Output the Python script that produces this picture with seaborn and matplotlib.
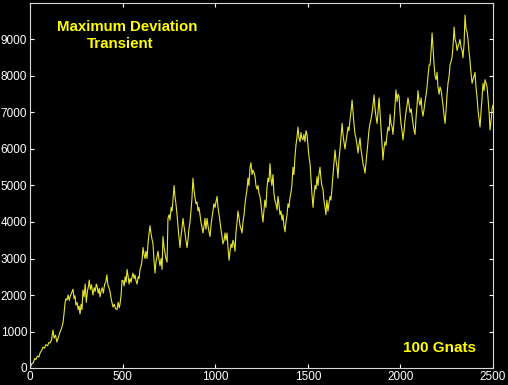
import numpy as np
import pandas as pd
import matplotlib
matplotlib.use("Agg")
import matplotlib.pyplot as plt
import seaborn as sns

# ─────────────────────────────────────────────────────────────────────────────
#  Data
# ─────────────────────────────────────────────────────────────────────────────

steps = [
    0, 10, 18, 25, 32, 40, 48, 55, 62, 70, 78, 86, 95, 102, 108, 116, 124, 130, 138, 145,
    152, 162, 170, 178, 184, 189, 194, 200, 206, 212, 216, 224, 232, 238, 243, 248, 254, 260, 265, 270,
    276, 281, 286, 292, 298, 304, 310, 316, 320, 326, 332, 340, 346, 352, 358, 362, 368, 374, 378, 384,
    390, 396, 403, 409, 415, 420, 426, 432, 438, 443, 448, 455, 462, 470, 476, 482, 486, 492, 497, 502,
    508, 514, 519, 524, 530, 535, 540, 546, 551, 556, 562, 567, 572, 578, 584, 589, 594, 600, 605, 610,
    616, 621, 626, 632, 637, 642, 648, 653, 658, 664, 669, 675, 680, 686, 691, 697, 702, 708, 713, 718,
    724, 729, 734, 740, 745, 751, 756, 762, 767, 772, 778, 783, 788, 794, 799, 804, 810, 815, 820, 826,
    831, 837, 842, 848, 853, 858, 864, 869, 874, 880, 885, 890, 896, 902, 907, 912, 918, 923, 929, 934,
    940, 945, 950, 956, 961, 966, 972, 977, 982, 988, 993, 999, 1004, 1010, 1015, 1021, 1026, 1031, 1037, 1042,
    1048, 1053, 1058, 1064, 1069, 1075, 1080, 1086, 1091, 1096, 1102, 1107, 1112, 1118, 1123, 1129, 1134, 1140, 1145, 1150,
    1156, 1161, 1166, 1172, 1177, 1182, 1188, 1193, 1199, 1204, 1210, 1215, 1220, 1226, 1231, 1236, 1242, 1247, 1252, 1258,
    1263, 1268, 1274, 1279, 1285, 1290, 1296, 1301, 1306, 1312, 1317, 1322, 1328, 1334, 1339, 1344, 1350, 1355, 1361, 1366,
    1371, 1377, 1382, 1388, 1393, 1398, 1404, 1409, 1414, 1420, 1425, 1431, 1436, 1441, 1447, 1452, 1458, 1463, 1468, 1474,
    1479, 1485, 1490, 1496, 1501, 1506, 1512, 1517, 1522, 1528, 1533, 1539, 1544, 1550, 1555, 1560, 1566, 1571, 1576, 1582,
    1587, 1593, 1598, 1603, 1609, 1614, 1620, 1625, 1631, 1636, 1641, 1647, 1652, 1658, 1663, 1668, 1674, 1679, 1685, 1690,
    1695, 1701, 1706, 1712, 1717, 1722, 1728, 1733, 1739, 1744, 1749, 1755, 1760, 1766, 1771, 1776, 1782, 1787, 1793, 1798,
    1803, 1809, 1814, 1820, 1825, 1830, 1836, 1841, 1847, 1852, 1858, 1863, 1868, 1874, 1879, 1885, 1890, 1895, 1901, 1906,
    1911, 1917, 1922, 1928, 1933, 1939, 1944, 1949, 1955, 1960, 1966, 1971, 1976, 1982, 1987, 1993, 1998, 2003, 2009, 2014,
    2020, 2025, 2030, 2036, 2041, 2047, 2052, 2058, 2063, 2068, 2074, 2079, 2085, 2090, 2095, 2101, 2106, 2112, 2117, 2122,
    2128, 2133, 2139, 2144, 2149, 2155, 2160, 2166, 2171, 2177, 2182, 2187, 2193, 2198, 2203, 2209, 2214, 2220, 2225, 2230,
    2236, 2241, 2247, 2252, 2257, 2263, 2268, 2274, 2279, 2284, 2290, 2295, 2301, 2306, 2311, 2317, 2322, 2327, 2333, 2338,
    2344, 2349, 2354, 2360, 2365, 2370, 2376, 2381, 2387, 2392, 2398, 2403, 2408, 2414, 2419, 2425, 2430, 2435, 2441, 2446,
    2452, 2457, 2463, 2468, 2473, 2479, 2484, 2490, 2495, 2500,
]

max_deviation = [
    0, 120, 140, 260, 230, 330, 300, 420, 470, 575, 540, 640, 610, 700, 685, 760, 1040, 820, 900, 712,
    820, 985, 1080, 1233, 1500, 1780, 1900, 1860, 2000, 1850, 1950, 2050, 2160, 1900, 1980, 1720, 1800, 1600, 1700, 1480,
    1750, 1600, 2140, 1950, 2300, 1800, 2100, 2250, 2410, 2150, 2280, 2000, 2200, 2100, 2300, 2250, 2050, 2180, 1950, 2100,
    2200, 2050, 2300, 2350, 2550, 2300, 2200, 2100, 1900, 1780, 1670, 1750, 1620, 1600, 1800, 1650, 1750, 2000, 2400, 2400,
    2250, 2500, 2350, 2700, 2500, 2300, 2450, 2350, 2500, 2600, 2450, 2550, 2400, 2300, 2500, 2450, 2700, 2800, 2950, 3300,
    3100, 3000, 3200, 3000, 3400, 3650, 3900, 3700, 3550, 3400, 3000, 2600, 2900, 3050, 3200, 2950, 2800, 3000, 2700, 3600,
    3300, 3150, 3000, 2900, 4100, 4200, 4050, 4400, 4300, 4600, 5000, 4700, 4500, 4200, 3900, 3600, 3300, 3600, 3800, 4100,
    3900, 3700, 3500, 3300, 3500, 3800, 4000, 4300, 4600, 5200, 4900, 4700, 4500, 4550, 4300, 4400, 4200, 4000, 3850, 3700,
    3900, 4100, 3800, 4100, 3900, 3750, 3600, 3900, 4100, 4300, 4500, 4400, 4550, 4700, 4400, 4200, 4000, 3800, 3600, 3400,
    3500, 3700, 3500, 3700, 3300, 2950, 3200, 3400, 3300, 3500, 3400, 3200, 3700, 4000, 4300, 4100, 3900, 3800, 3700, 4000,
    4200, 4500, 4700, 4900, 5200, 5000, 5500, 5620, 5300, 5420, 5350, 5240, 5000, 4900, 5000, 4800, 4690, 4500, 4250, 4000,
    4300, 4600, 4400, 4900, 5200, 5100, 5600, 5200, 5000, 5300, 4800, 4600, 4500, 4330, 4700, 4500, 4200, 4300, 4050, 4200,
    3900, 3730, 4000, 4200, 4500, 4400, 4670, 4800, 5000, 5500, 5300, 5800, 6100, 6300, 6600, 6300, 6200, 6450, 6300, 6250,
    6400, 6200, 6500, 6400, 6100, 5800, 5600, 5200, 4800, 4400, 4700, 5000, 4900, 5240, 5000, 5300, 5500, 5200, 5000, 4900,
    4600, 4400, 4200, 4600, 4300, 4500, 4700, 4600, 4960, 5300, 5600, 5970, 5700, 5500, 5200, 5700, 6000, 6300, 6700, 6400,
    6200, 6000, 6200, 6400, 6600, 6500, 6800, 7000, 7340, 7000, 6700, 6400, 6300, 6100, 5890, 6100, 6300, 6000, 5800, 5600,
    5500, 5340, 5600, 5900, 6200, 6500, 6700, 6800, 6990, 7200, 7480, 7100, 6900, 6700, 7000, 7400, 7000, 6600, 6100, 5700,
    6000, 6200, 6100, 6400, 6600, 6500, 6950, 6700, 6600, 6400, 6800, 7200, 7620, 7300, 7500, 7440, 7000, 6700, 6500, 6250,
    6500, 6800, 7000, 7200, 7400, 7200, 7000, 7100, 6900, 6700, 6500, 6400, 6900, 7200, 7600, 7300, 7200, 7400, 7050, 6900,
    7100, 7300, 7500, 7700, 8000, 8300, 8300, 8700, 9180, 8700, 8300, 8000, 7900, 8100, 7700, 7500, 7700, 7600, 7400, 7200,
    6900, 6700, 7100, 7500, 7800, 8000, 8300, 8400, 8520, 8800, 9340, 9000, 8900, 8700, 8800, 8900, 9000, 8800, 8700, 8500,
    8900, 9670, 9300, 9200, 9000, 8700, 8400, 8100, 7800, 7900, 8000, 8100, 7700, 7400, 7070, 6800, 6600, 7000, 7400, 7800,
    7600, 7900, 7800, 7700, 7400, 7000, 6520, 6800, 7100, 7200,
]

x_ticks = [0, 500, 1000, 1500, 2000, 2500]
y_ticks = [0, 1000, 2000, 3000, 4000, 5000, 6000, 7000, 8000, 9000]

title_lines = ["Maximum Deviation", "Transient"]
note_text = "100 Gnats"

# ─────────────────────────────────────────────────────────────────────────────
#  Plot
# ─────────────────────────────────────────────────────────────────────────────

sns.set_style("dark", {"axes.facecolor": "black", "figure.facecolor": "black"})
plt.rcParams["font.family"] = ["Liberation Sans", "DejaVu Sans"]

df = pd.DataFrame({"step": steps, "dev": max_deviation})

fig = plt.figure(figsize=(5.08, 3.85), dpi=100)
ax = fig.add_axes([30 / 508, 17 / 385, 463 / 508, 365 / 385])

sns.lineplot(data=df, x="step", y="dev", ax=ax, estimator=None,
             color="#e6e632", linewidth=0.8)

ax.set_xlim(0, 2500)
ax.set_ylim(0, 10000)
ax.set_xticks(x_ticks)
ax.set_yticks(y_ticks)
ax.set_xlabel("")
ax.set_ylabel("")
ax.grid(False)

ax.tick_params(direction="in", colors="white", labelcolor="white",
               labelsize=8.5, length=3, width=0.8,
               top=True, right=True, bottom=True, left=True, pad=2)
for side in ax.spines.values():
    side.set_color("#d8d8d8")
    side.set_linewidth(0.8)
    side.set_visible(True)

# ── Annotations ──
ax.text(0.210, 0.935, title_lines[0], transform=ax.transAxes, ha="center", va="center",
        color="#ffff00", fontsize=10.8, fontweight="bold")
ax.text(0.195, 0.888, title_lines[1], transform=ax.transAxes, ha="center", va="center",
        color="#ffff00", fontsize=10.8, fontweight="bold")
ax.text(0.885, 0.055, note_text, transform=ax.transAxes, ha="center", va="center",
        color="#ffff00", fontsize=11, fontweight="bold")

fig.savefig("out.png", dpi=100, facecolor="black")
plt.close(fig)
